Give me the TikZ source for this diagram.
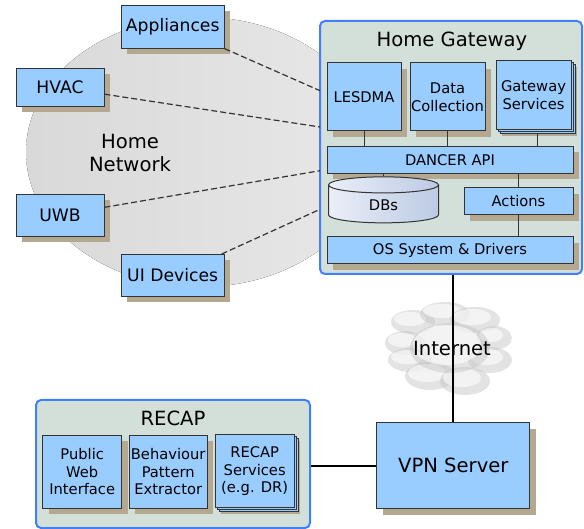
\documentclass[tikz,border=0pt]{standalone}
\usepackage{fontspec}
\setmainfont{DejaVu Sans}
\usepackage{tikz}
\usetikzlibrary{shapes.geometric,shadows}
\definecolor{box-color}{RGB}{153,204,255}
\definecolor{shadow-color}{RGB}{181,168,145}
\definecolor{group-color}{RGB}{211,224,218}
\definecolor{group-border}{RGB}{64,128,255}
\definecolor{line-color}{RGB}{51,51,51}
\definecolor{db-light}{RGB}{234,239,248}
\definecolor{db-dark}{RGB}{188,202,228}

\tikzset{
  big text/.style={align=center, font=\fontsize{19.6}{23}\selectfont},
  device/.style={draw=line-color, line width=1pt, fill=box-color, align=center, inner sep=1pt,
    font=\fontsize{17.2}{20.5}\selectfont,
    drop shadow={shadow xshift=6pt, shadow yshift=-6pt, fill=shadow-color, opacity=1}},
  module/.style={device, font=\fontsize{14.7}{17.7}\selectfont},
  stacked/.style={module,
    copy shadow={shadow xshift=4pt, shadow yshift=-4pt, fill=box-color, draw=line-color},
    copy shadow={shadow xshift=2pt, shadow yshift=-2pt, fill=box-color, draw=line-color}},
  group/.style={draw=group-border, line width=2pt, fill=group-color, rounded corners=5pt},
  link/.style={draw=line-color, line width=1.2pt, dash pattern=on 6pt off 3pt},
  wire/.style={draw=line-color, line width=1pt},
  trunk/.style={draw=black, line width=2pt},
  puff/.style={fill=black!24, opacity=0.45},
  puff light/.style={fill=white, opacity=0.6}
}

\begin{document}
\begin{tikzpicture}[x=1pt, y=-1pt]
    \useasboundingbox (0,0) rectangle (584,529);

    \fill[left color=black!15, middle color=black!25, right color=black!9]
        (200,152) ellipse [x radius=174pt, y radius=135pt];
    \node[big text] (homenet) at (130,153) {Home\\Network};

    \node[group, minimum width=262pt, minimum height=253pt] (gw) at (451,147.5) {};
    \node[big text] (gwtitle) at (452,41) {Home Gateway};

    \node[device, minimum width=103pt, minimum height=43pt] (appl) at (172.7,26.7) {Appliances};
    \node[device, minimum width=88pt, minimum height=38pt] (hvac) at (60,87.2) {HVAC};
    \node[device, minimum width=88pt, minimum height=42pt] (uwb) at (60,215.3) {UWB};
    \node[device, minimum width=103pt, minimum height=42pt] (uidev) at (172.7,275.5) {UI Devices};

    \coordinate (gw-in1) at (320,90.7);
    \coordinate (gw-in2) at (320,127);
    \coordinate (gw-in3) at (320,170.7);
    \coordinate (gw-in4) at (320,209.3);
    \draw[link] (appl.south east) -- (gw-in1);
    \draw[link] ([yshift=-7pt]hvac.east) -- (gw-in2);
    \draw[link] ([yshift=8pt]uwb.east) -- (gw-in3);
    \draw[link] ([xshift=-3pt]uidev.north east) -- (gw-in4);

    \node[module, minimum width=74pt, minimum height=68pt] (lesdma) at (364,97) {LESDMA};
    \node[module, minimum width=75pt, minimum height=68pt] (datacol) at (447.5,97) {Data\\Collection};
    \node[stacked, minimum width=75pt, minimum height=69pt] (gwserv) at (533.5,95.5) {Gateway\\Services};
    \node[module, minimum width=246pt, minimum height=27pt] (dancer) at (450,159.7) {DANCER API};
    \node[draw=line-color, line width=1pt, cylinder, shape border rotate=90, aspect=0.45,
        minimum width=110pt, minimum height=46pt, left color=db-light, right color=db-dark,
        font=\fontsize{14.7}{17.7}\selectfont] (dbs) at (383.5,205.5) {DBs};
    \node[module, minimum width=109pt, minimum height=27pt] (actions) at (518.5,201.3) {Actions};
    \node[module, minimum width=246pt, minimum height=27pt] (os) at (450,250.3) {OS System \& Drivers};

    \draw[wire] (lesdma.south) -- (lesdma.south |- dancer.north);
    \draw[wire] (datacol.south) -- (datacol.south |- dancer.north);
    \draw[wire] ([xshift=4pt,yshift=-4pt]gwserv.south) -- ([xshift=4pt]gwserv.south |- dancer.north);
    \draw[wire] (dbs.north) -- (dbs.north |- dancer.south);
    \draw[wire] (actions.north) -- (actions.north |- dancer.south);
    \draw[wire] (actions.south) -- (actions.south |- os.north);

    \foreach \cx/\cy/\rx/\ry in {413/322/22/12, 445/314/25/12, 475/320/25/13,
        494/338/18/12, 405/343/20/12, 410/360/22/12, 490/360/22/13,
        430/376/25/14, 465/381/25/14, 450/348/40/25}{
        \fill[puff] (\cx,\cy) ellipse [x radius=\rx pt, y radius=\ry pt];
        \fill[puff light] (\cx-3,\cy-3) ellipse [x radius=\rx pt-6pt, y radius=\ry pt-5pt];
    }

    \node[device, minimum width=153pt, minimum height=86pt, font=\fontsize{19.6}{23}\selectfont]
        (vpn) at (453.3,465.5) {VPN Server};
    \draw[trunk] (vpn.north) -- (vpn.north |- gw.south);
    \node[big text] (inet) at (452,348) {Internet};

    \node[group, minimum width=274pt, minimum height=128pt] (recap) at (173,464) {};
    \node[big text] (recaptitle) at (173,418) {RECAP};
    \node[module, minimum width=79pt, minimum height=73pt] (pwi) at (82.2,471.7) {Public\\Web\\Interface};
    \node[module, minimum width=78pt, minimum height=73pt] (bpe) at (168.2,471.7) {Behaviour\\Pattern\\Extractor};
    \node[stacked, minimum width=79pt, minimum height=73pt] (rserv) at (254.7,471.3) {RECAP\\Services\\(e.g. DR)};
    \draw[trunk] (vpn.west -| recap.east) -- (vpn.west);
\end{tikzpicture}
\end{document}
